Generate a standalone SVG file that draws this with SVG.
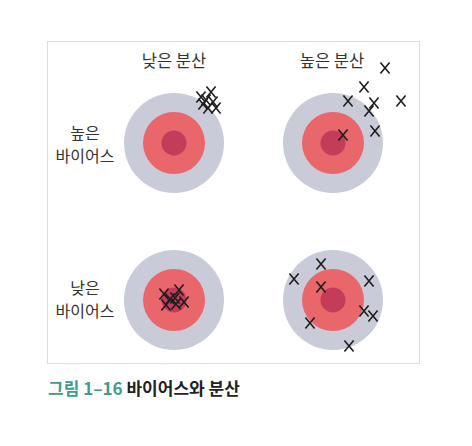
<svg xmlns="http://www.w3.org/2000/svg" xmlns:xlink="http://www.w3.org/1999/xlink" width="472" height="446" viewBox="0 0 472 446">
<style>
.lbl{font-family:"Noto Sans CJK KR","Noto Sans",sans-serif;font-size:16px;fill:#333;text-anchor:middle}
.hd{font-size:16.5px}
.cap{font-family:"Noto Sans CJK KR","Noto Sans",sans-serif;font-size:17px;font-weight:bold}
.o{fill:#c9cbd9}.m{fill:#e9666a}.i{fill:#c43c5a}
.x{stroke:#1e1e1e;stroke-width:1.6;fill:none}
</style>
<defs>
<path id="X" class="x" d="M-4.6,-5.6L4.6,5.6M4.6,-5.6L-4.6,5.6"/>
<g id="T"><circle class="o" r="50"/><circle class="m" r="31"/><circle class="i" r="12.5"/></g>
</defs>
<rect x="47.5" y="41.5" width="372" height="322" fill="#fff" stroke="#dcdce4" stroke-width="1"/>
<g id="labels">
<text class="lbl hd" x="174" y="67">낮은 분산</text>
<text class="lbl hd" x="332" y="67">높은 분산</text>
<text class="lbl" x="85" y="138.5">높은</text>
<text class="lbl" x="85" y="162">바이어스</text>
<text class="lbl" x="85" y="293.5">낮은</text>
<text class="lbl" x="85" y="317">바이어스</text>
</g>
<g id="target-tl"><use xlink:href="#T" x="174" y="143"/></g>
<g id="target-tr"><use xlink:href="#T" x="333" y="143"/></g>
<g id="target-bl"><use xlink:href="#T" x="174" y="300"/></g>
<g id="target-br"><use xlink:href="#T" x="333" y="300"/></g>
<g id="marks-tl">
<use xlink:href="#X" x="201" y="97"/><use xlink:href="#X" x="211" y="92"/><use xlink:href="#X" x="203" y="104"/>
<use xlink:href="#X" x="213" y="102"/><use xlink:href="#X" x="208" y="108"/><use xlink:href="#X" x="216" y="108"/>
<use xlink:href="#X" x="206" y="100"/>
</g>
<g id="marks-tr">
<use xlink:href="#X" x="385" y="68"/><use xlink:href="#X" x="364" y="87"/><use xlink:href="#X" x="348" y="101"/>
<use xlink:href="#X" x="374" y="103"/><use xlink:href="#X" x="369" y="111"/><use xlink:href="#X" x="401" y="101"/>
<use xlink:href="#X" x="375" y="131"/><use xlink:href="#X" x="343" y="135"/>
</g>
<g id="marks-bl">
<use xlink:href="#X" x="164" y="294"/><use xlink:href="#X" x="179" y="290"/><use xlink:href="#X" x="175" y="298"/>
<use xlink:href="#X" x="166" y="305"/><use xlink:href="#X" x="176" y="304"/><use xlink:href="#X" x="184" y="302"/>
<use xlink:href="#X" x="170" y="299"/>
</g>
<g id="marks-br">
<use xlink:href="#X" x="321" y="264"/><use xlink:href="#X" x="294" y="279"/><use xlink:href="#X" x="321" y="287"/>
<use xlink:href="#X" x="369" y="281"/><use xlink:href="#X" x="364" y="311"/><use xlink:href="#X" x="373" y="316"/>
<use xlink:href="#X" x="310" y="323"/><use xlink:href="#X" x="349" y="346"/>
</g>
<g id="caption">
<text class="cap" x="48" y="395"><tspan fill="#3f9c8e">그림 1–16</tspan><tspan fill="#222" dx="4">바이어스와 분산</tspan></text>
</g>
</svg>
